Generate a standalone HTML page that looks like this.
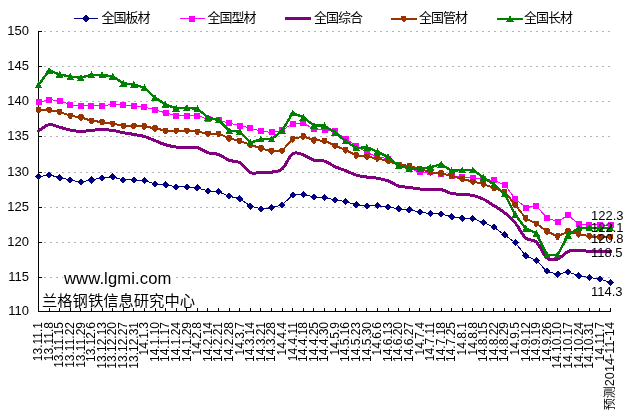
<!DOCTYPE html>
<html><head><meta charset="utf-8"><style>
html,body{margin:0;padding:0;background:#fff;}
body{width:630px;height:419px;position:relative;overflow:hidden;}
.t{position:absolute;white-space:nowrap;line-height:1;color:#000;}
.yl{font-family:"Liberation Sans",sans-serif;font-size:13px;right:601px;text-align:right;}
.lg{font-family:"Liberation Sans","Noto Sans CJK SC",sans-serif;font-size:13px;letter-spacing:-1px;}
.el{font-family:"Liberation Sans",sans-serif;font-size:13px;left:591px;}
</style></head><body>
<svg width="630" height="419" viewBox="0 0 630 419" style="position:absolute;left:0;top:0">
<line x1="44" y1="31.5" x2="610" y2="31.5" stroke="#b4b4b4" stroke-width="1" stroke-dasharray="2 4"/>
<line x1="44" y1="66.5" x2="610" y2="66.5" stroke="#b4b4b4" stroke-width="1" stroke-dasharray="2 4"/>
<line x1="44" y1="101.5" x2="610" y2="101.5" stroke="#b4b4b4" stroke-width="1" stroke-dasharray="2 4"/>
<line x1="44" y1="136.5" x2="610" y2="136.5" stroke="#b4b4b4" stroke-width="1" stroke-dasharray="2 4"/>
<line x1="44" y1="172.5" x2="610" y2="172.5" stroke="#b4b4b4" stroke-width="1" stroke-dasharray="2 4"/>
<line x1="44" y1="207.5" x2="610" y2="207.5" stroke="#b4b4b4" stroke-width="1" stroke-dasharray="2 4"/>
<line x1="44" y1="242.5" x2="610" y2="242.5" stroke="#b4b4b4" stroke-width="1" stroke-dasharray="2 4"/>
<line x1="44" y1="277.5" x2="610" y2="277.5" stroke="#b4b4b4" stroke-width="1" stroke-dasharray="2 4"/>
<g shape-rendering="crispEdges" stroke="#000" stroke-width="1">
<line x1="38.5" y1="31" x2="38.5" y2="312"/>
<line x1="38" y1="311.5" x2="611" y2="311.5"/>
<line x1="38" y1="31.5" x2="42" y2="31.5"/>
<line x1="38" y1="66.5" x2="42" y2="66.5"/>
<line x1="38" y1="101.5" x2="42" y2="101.5"/>
<line x1="38" y1="136.5" x2="42" y2="136.5"/>
<line x1="38" y1="172.5" x2="42" y2="172.5"/>
<line x1="38" y1="207.5" x2="42" y2="207.5"/>
<line x1="38" y1="242.5" x2="42" y2="242.5"/>
<line x1="38" y1="277.5" x2="42" y2="277.5"/>
<line x1="49.5" y1="308" x2="49.5" y2="311"/>
<line x1="59.5" y1="308" x2="59.5" y2="311"/>
<line x1="70.5" y1="308" x2="70.5" y2="311"/>
<line x1="80.5" y1="308" x2="80.5" y2="311"/>
<line x1="91.5" y1="308" x2="91.5" y2="311"/>
<line x1="102.5" y1="308" x2="102.5" y2="311"/>
<line x1="112.5" y1="308" x2="112.5" y2="311"/>
<line x1="123.5" y1="308" x2="123.5" y2="311"/>
<line x1="133.5" y1="308" x2="133.5" y2="311"/>
<line x1="144.5" y1="308" x2="144.5" y2="311"/>
<line x1="155.5" y1="308" x2="155.5" y2="311"/>
<line x1="165.5" y1="308" x2="165.5" y2="311"/>
<line x1="176.5" y1="308" x2="176.5" y2="311"/>
<line x1="186.5" y1="308" x2="186.5" y2="311"/>
<line x1="197.5" y1="308" x2="197.5" y2="311"/>
<line x1="207.5" y1="308" x2="207.5" y2="311"/>
<line x1="218.5" y1="308" x2="218.5" y2="311"/>
<line x1="229.5" y1="308" x2="229.5" y2="311"/>
<line x1="239.5" y1="308" x2="239.5" y2="311"/>
<line x1="250.5" y1="308" x2="250.5" y2="311"/>
<line x1="260.5" y1="308" x2="260.5" y2="311"/>
<line x1="271.5" y1="308" x2="271.5" y2="311"/>
<line x1="282.5" y1="308" x2="282.5" y2="311"/>
<line x1="292.5" y1="308" x2="292.5" y2="311"/>
<line x1="303.5" y1="308" x2="303.5" y2="311"/>
<line x1="313.5" y1="308" x2="313.5" y2="311"/>
<line x1="324.5" y1="308" x2="324.5" y2="311"/>
<line x1="335.5" y1="308" x2="335.5" y2="311"/>
<line x1="345.5" y1="308" x2="345.5" y2="311"/>
<line x1="356.5" y1="308" x2="356.5" y2="311"/>
<line x1="366.5" y1="308" x2="366.5" y2="311"/>
<line x1="377.5" y1="308" x2="377.5" y2="311"/>
<line x1="388.5" y1="308" x2="388.5" y2="311"/>
<line x1="398.5" y1="308" x2="398.5" y2="311"/>
<line x1="409.5" y1="308" x2="409.5" y2="311"/>
<line x1="419.5" y1="308" x2="419.5" y2="311"/>
<line x1="430.5" y1="308" x2="430.5" y2="311"/>
<line x1="441.5" y1="308" x2="441.5" y2="311"/>
<line x1="451.5" y1="308" x2="451.5" y2="311"/>
<line x1="462.5" y1="308" x2="462.5" y2="311"/>
<line x1="472.5" y1="308" x2="472.5" y2="311"/>
<line x1="483.5" y1="308" x2="483.5" y2="311"/>
<line x1="493.5" y1="308" x2="493.5" y2="311"/>
<line x1="504.5" y1="308" x2="504.5" y2="311"/>
<line x1="515.5" y1="308" x2="515.5" y2="311"/>
<line x1="525.5" y1="308" x2="525.5" y2="311"/>
<line x1="536.5" y1="308" x2="536.5" y2="311"/>
<line x1="546.5" y1="308" x2="546.5" y2="311"/>
<line x1="557.5" y1="308" x2="557.5" y2="311"/>
<line x1="568.5" y1="308" x2="568.5" y2="311"/>
<line x1="578.5" y1="308" x2="578.5" y2="311"/>
<line x1="589.5" y1="308" x2="589.5" y2="311"/>
<line x1="599.5" y1="308" x2="599.5" y2="311"/>
<line x1="610.5" y1="308" x2="610.5" y2="311"/>
</g>
<polyline points="38.50,176.84 49.09,174.74 59.69,177.75 70.28,179.99 80.87,182.09 91.46,179.99 102.06,177.75 112.65,176.84 123.24,179.99 133.83,179.99 144.43,180.76 155.02,183.77 165.61,184.82 176.20,186.92 186.80,186.92 197.39,187.83 207.98,190.98 218.57,191.82 229.17,196.23 239.76,198.68 250.35,206.10 260.94,208.76 271.54,207.85 282.13,204.84 292.72,195.04 303.31,194.69 313.91,196.86 324.50,197.70 335.09,199.87 345.69,201.62 356.28,204.84 366.87,205.75 377.46,205.75 388.06,206.94 398.65,208.76 409.24,209.81 419.83,211.91 430.43,213.73 441.02,213.73 451.61,216.95 462.20,218.35 472.80,218.56 483.39,222.48 493.98,227.24 504.57,234.94 515.17,242.50 525.76,255.80 536.35,260.49 546.94,271.34 557.54,274.14 568.13,271.97 578.72,275.82 589.31,277.50 599.91,279.13 610.50,282.26" fill="none" stroke="#000080" stroke-width="1.0" stroke-linejoin="round" shape-rendering="crispEdges"/><path d="M38.50,173.24L42.10,176.84L38.50,180.44L34.90,176.84ZM49.09,171.14L52.69,174.74L49.09,178.34L45.49,174.74ZM59.69,174.15L63.29,177.75L59.69,181.35L56.09,177.75ZM70.28,176.39L73.88,179.99L70.28,183.59L66.68,179.99ZM80.87,178.49L84.47,182.09L80.87,185.69L77.27,182.09ZM91.46,176.39L95.06,179.99L91.46,183.59L87.86,179.99ZM102.06,174.15L105.66,177.75L102.06,181.35L98.46,177.75ZM112.65,173.24L116.25,176.84L112.65,180.44L109.05,176.84ZM123.24,176.39L126.84,179.99L123.24,183.59L119.64,179.99ZM133.83,176.39L137.43,179.99L133.83,183.59L130.23,179.99ZM144.43,177.16L148.03,180.76L144.43,184.36L140.83,180.76ZM155.02,180.17L158.62,183.77L155.02,187.37L151.42,183.77ZM165.61,181.22L169.21,184.82L165.61,188.42L162.01,184.82ZM176.20,183.32L179.80,186.92L176.20,190.52L172.60,186.92ZM186.80,183.32L190.40,186.92L186.80,190.52L183.20,186.92ZM197.39,184.23L200.99,187.83L197.39,191.43L193.79,187.83ZM207.98,187.38L211.58,190.98L207.98,194.58L204.38,190.98ZM218.57,188.22L222.17,191.82L218.57,195.42L214.97,191.82ZM229.17,192.63L232.77,196.23L229.17,199.83L225.57,196.23ZM239.76,195.08L243.36,198.68L239.76,202.28L236.16,198.68ZM250.35,202.50L253.95,206.10L250.35,209.70L246.75,206.10ZM260.94,205.16L264.54,208.76L260.94,212.36L257.34,208.76ZM271.54,204.25L275.14,207.85L271.54,211.45L267.94,207.85ZM282.13,201.24L285.73,204.84L282.13,208.44L278.53,204.84ZM292.72,191.44L296.32,195.04L292.72,198.64L289.12,195.04ZM303.31,191.09L306.91,194.69L303.31,198.29L299.71,194.69ZM313.91,193.26L317.51,196.86L313.91,200.46L310.31,196.86ZM324.50,194.10L328.10,197.70L324.50,201.30L320.90,197.70ZM335.09,196.27L338.69,199.87L335.09,203.47L331.49,199.87ZM345.69,198.02L349.29,201.62L345.69,205.22L342.09,201.62ZM356.28,201.24L359.88,204.84L356.28,208.44L352.68,204.84ZM366.87,202.15L370.47,205.75L366.87,209.35L363.27,205.75ZM377.46,202.15L381.06,205.75L377.46,209.35L373.86,205.75ZM388.06,203.34L391.66,206.94L388.06,210.54L384.46,206.94ZM398.65,205.16L402.25,208.76L398.65,212.36L395.05,208.76ZM409.24,206.21L412.84,209.81L409.24,213.41L405.64,209.81ZM419.83,208.31L423.43,211.91L419.83,215.51L416.23,211.91ZM430.43,210.13L434.03,213.73L430.43,217.33L426.83,213.73ZM441.02,210.13L444.62,213.73L441.02,217.33L437.42,213.73ZM451.61,213.35L455.21,216.95L451.61,220.55L448.01,216.95ZM462.20,214.75L465.80,218.35L462.20,221.95L458.60,218.35ZM472.80,214.96L476.40,218.56L472.80,222.16L469.20,218.56ZM483.39,218.88L486.99,222.48L483.39,226.08L479.79,222.48ZM493.98,223.64L497.58,227.24L493.98,230.84L490.38,227.24ZM504.57,231.34L508.17,234.94L504.57,238.54L500.97,234.94ZM515.17,238.90L518.77,242.50L515.17,246.10L511.57,242.50ZM525.76,252.20L529.36,255.80L525.76,259.40L522.16,255.80ZM536.35,256.89L539.95,260.49L536.35,264.09L532.75,260.49ZM546.94,267.74L550.54,271.34L546.94,274.94L543.34,271.34ZM557.54,270.54L561.14,274.14L557.54,277.74L553.94,274.14ZM568.13,268.37L571.73,271.97L568.13,275.57L564.53,271.97ZM578.72,272.22L582.32,275.82L578.72,279.42L575.12,275.82ZM589.31,273.90L592.91,277.50L589.31,281.10L585.71,277.50ZM599.91,275.53L603.51,279.13L599.91,282.73L596.31,279.13ZM610.50,278.66L614.10,282.26L610.50,285.86L606.90,282.26Z" fill="#000080" shape-rendering="crispEdges"/>
<polyline points="38.50,102.41 49.09,99.68 59.69,100.52 70.28,104.93 80.87,105.77 91.46,105.77 102.06,105.77 112.65,104.30 123.24,105.00 133.83,105.70 144.43,107.24 155.02,109.69 165.61,112.98 176.20,115.50 186.80,115.50 197.39,115.50 207.98,119.28 218.57,120.19 229.17,123.06 239.76,125.58 250.35,128.10 260.94,131.25 271.54,132.37 282.13,130.34 292.72,123.55 303.31,123.41 313.91,128.80 324.50,130.20 335.09,131.25 345.69,139.16 356.28,145.50 366.87,152.56 377.46,156.66 388.06,158.75 398.65,164.80 409.24,167.68 419.83,172.36 430.43,172.36 441.02,173.76 451.61,176.49 462.20,177.26 472.80,178.31 483.39,179.36 493.98,180.48 504.57,184.75 515.17,198.75 525.76,207.50 536.35,206.10 546.94,217.79 557.54,221.92 568.13,215.13 578.72,224.16 589.31,224.58 599.91,225.07 610.50,225.42" fill="none" stroke="#ff00ff" stroke-width="1" stroke-linejoin="round" shape-rendering="crispEdges"/><path d="M35.50,99.41h6.0v6.0h-6.0ZM46.09,96.68h6.0v6.0h-6.0ZM56.69,97.52h6.0v6.0h-6.0ZM67.28,101.93h6.0v6.0h-6.0ZM77.87,102.77h6.0v6.0h-6.0ZM88.46,102.77h6.0v6.0h-6.0ZM99.06,102.77h6.0v6.0h-6.0ZM109.65,101.30h6.0v6.0h-6.0ZM120.24,102.00h6.0v6.0h-6.0ZM130.83,102.70h6.0v6.0h-6.0ZM141.43,104.24h6.0v6.0h-6.0ZM152.02,106.69h6.0v6.0h-6.0ZM162.61,109.98h6.0v6.0h-6.0ZM173.20,112.50h6.0v6.0h-6.0ZM183.80,112.50h6.0v6.0h-6.0ZM194.39,112.50h6.0v6.0h-6.0ZM204.98,116.28h6.0v6.0h-6.0ZM215.57,117.19h6.0v6.0h-6.0ZM226.17,120.06h6.0v6.0h-6.0ZM236.76,122.58h6.0v6.0h-6.0ZM247.35,125.10h6.0v6.0h-6.0ZM257.94,128.25h6.0v6.0h-6.0ZM268.54,129.37h6.0v6.0h-6.0ZM279.13,127.34h6.0v6.0h-6.0ZM289.72,120.55h6.0v6.0h-6.0ZM300.31,120.41h6.0v6.0h-6.0ZM310.91,125.80h6.0v6.0h-6.0ZM321.50,127.20h6.0v6.0h-6.0ZM332.09,128.25h6.0v6.0h-6.0ZM342.69,136.16h6.0v6.0h-6.0ZM353.28,142.50h6.0v6.0h-6.0ZM363.87,149.56h6.0v6.0h-6.0ZM374.46,153.66h6.0v6.0h-6.0ZM385.06,155.75h6.0v6.0h-6.0ZM395.65,161.80h6.0v6.0h-6.0ZM406.24,164.68h6.0v6.0h-6.0ZM416.83,169.36h6.0v6.0h-6.0ZM427.43,169.36h6.0v6.0h-6.0ZM438.02,170.76h6.0v6.0h-6.0ZM448.61,173.49h6.0v6.0h-6.0ZM459.20,174.26h6.0v6.0h-6.0ZM469.80,175.31h6.0v6.0h-6.0ZM480.39,176.36h6.0v6.0h-6.0ZM490.98,177.48h6.0v6.0h-6.0ZM501.57,181.75h6.0v6.0h-6.0ZM512.17,195.75h6.0v6.0h-6.0ZM522.76,204.50h6.0v6.0h-6.0ZM533.35,203.10h6.0v6.0h-6.0ZM543.94,214.79h6.0v6.0h-6.0ZM554.54,218.92h6.0v6.0h-6.0ZM565.13,212.13h6.0v6.0h-6.0ZM575.72,221.16h6.0v6.0h-6.0ZM586.31,221.58h6.0v6.0h-6.0ZM596.91,222.07h6.0v6.0h-6.0ZM607.50,222.42h6.0v6.0h-6.0Z" fill="#ff00ff" shape-rendering="crispEdges"/>
<path d="M38.50,130.90C40.27,129.86 45.56,125.29 49.09,124.67C52.62,124.05 56.15,126.30 59.69,127.19C63.22,128.08 66.75,129.29 70.28,129.99C73.81,130.69 77.34,131.33 80.87,131.39C84.40,131.45 87.93,130.66 91.46,130.34C94.99,130.03 98.52,129.49 102.06,129.50C105.59,129.51 109.12,129.87 112.65,130.41C116.18,130.95 119.71,132.06 123.24,132.72C126.77,133.39 130.30,133.77 133.83,134.40C137.36,135.03 140.90,135.45 144.43,136.50C147.96,137.55 151.49,139.30 155.02,140.68C158.55,142.06 162.08,143.72 165.61,144.78C169.14,145.84 172.67,146.58 176.20,147.01C179.73,147.44 183.27,147.28 186.80,147.37C190.33,147.47 193.86,146.70 197.39,147.59C200.92,148.48 204.45,151.55 207.98,152.70C211.51,153.85 215.04,153.24 218.57,154.50C222.10,155.76 225.64,158.88 229.17,160.26C232.70,161.64 236.23,160.74 239.76,162.78C243.29,164.82 246.82,170.88 250.35,172.50C253.88,174.12 257.41,172.56 260.94,172.50C264.48,172.44 268.01,172.74 271.54,172.14C275.07,171.54 278.60,171.96 282.13,168.90C285.66,165.84 289.19,156.12 292.72,153.78C296.25,151.44 299.78,153.78 303.31,154.86C306.85,155.94 310.38,159.22 313.91,160.26C317.44,161.30 320.97,160.04 324.50,161.12C328.03,162.20 331.56,165.14 335.09,166.74C338.62,168.34 342.15,169.31 345.69,170.70C349.22,172.09 352.75,174.03 356.28,175.09C359.81,176.15 363.34,176.53 366.87,177.05C370.40,177.58 373.93,177.61 377.46,178.24C380.99,178.87 384.52,179.52 388.06,180.83C391.59,182.14 395.12,184.98 398.65,186.08C402.18,187.18 405.71,186.92 409.24,187.41C412.77,187.90 416.30,188.67 419.83,189.02C423.36,189.37 426.90,189.43 430.43,189.51C433.96,189.59 437.49,188.85 441.02,189.51C444.55,190.18 448.08,192.69 451.61,193.50C455.14,194.31 458.67,194.01 462.20,194.34C465.73,194.67 469.27,194.67 472.80,195.46C476.33,196.25 479.86,197.40 483.39,199.10C486.92,200.80 490.45,203.42 493.98,205.68C497.51,207.94 501.04,209.81 504.57,212.68C508.10,215.55 511.64,218.68 515.17,222.90C518.70,227.12 522.23,234.83 525.76,238.02C529.29,241.20 532.82,238.69 536.35,242.01C539.88,245.34 543.41,255.12 546.94,257.97C550.48,260.82 554.01,260.19 557.54,259.09C561.07,257.99 564.60,252.85 568.13,251.39C571.66,249.93 575.19,250.34 578.72,250.34C582.25,250.34 585.78,251.22 589.31,251.39C592.85,251.56 596.38,251.39 599.91,251.39C603.44,251.39 608.73,251.39 610.50,251.39" fill="none" stroke="#800080" stroke-width="3.0" stroke-linecap="round" shape-rendering="crispEdges"/>
<polyline points="38.50,109.69 49.09,110.04 59.69,111.93 70.28,115.78 80.87,117.32 91.46,120.75 102.06,122.08 112.65,123.62 123.24,125.93 133.83,126.00 144.43,126.49 155.02,128.24 165.61,130.69 176.20,130.69 186.80,130.69 197.39,131.67 207.98,133.56 218.57,133.56 229.17,138.44 239.76,140.96 250.35,144.78 260.94,148.38 271.54,151.33 282.13,150.61 292.72,139.16 303.31,136.36 313.91,140.10 324.50,140.82 335.09,145.50 345.69,150.18 356.28,155.36 366.87,156.66 377.46,158.39 388.06,160.98 398.65,164.58 409.24,166.02 419.83,168.90 430.43,172.28 441.02,173.34 451.61,176.00 462.20,178.94 472.80,181.53 483.39,184.12 493.98,188.04 504.57,191.89 515.17,204.70 525.76,218.35 536.35,223.60 546.94,231.30 557.54,236.48 568.13,231.44 578.72,234.10 589.31,236.20 599.91,237.25 610.50,236.90" fill="none" stroke="#993300" stroke-width="2" stroke-linejoin="round" shape-rendering="crispEdges"/><path d="M36.50,106.69L40.50,106.69L41.20,107.89L41.20,110.89L39.20,113.09L37.80,113.09L35.80,110.89L35.80,107.89ZM47.09,107.04L51.09,107.04L51.79,108.24L51.79,111.24L49.79,113.44L48.39,113.44L46.39,111.24L46.39,108.24ZM57.69,108.93L61.69,108.93L62.39,110.13L62.39,113.13L60.39,115.33L58.99,115.33L56.99,113.13L56.99,110.13ZM68.28,112.78L72.28,112.78L72.98,113.98L72.98,116.98L70.98,119.18L69.58,119.18L67.58,116.98L67.58,113.98ZM78.87,114.32L82.87,114.32L83.57,115.52L83.57,118.52L81.57,120.72L80.17,120.72L78.17,118.52L78.17,115.52ZM89.46,117.75L93.46,117.75L94.16,118.95L94.16,121.95L92.16,124.15L90.76,124.15L88.76,121.95L88.76,118.95ZM100.06,119.08L104.06,119.08L104.76,120.28L104.76,123.28L102.76,125.48L101.36,125.48L99.36,123.28L99.36,120.28ZM110.65,120.62L114.65,120.62L115.35,121.82L115.35,124.82L113.35,127.02L111.95,127.02L109.95,124.82L109.95,121.82ZM121.24,122.93L125.24,122.93L125.94,124.13L125.94,127.13L123.94,129.33L122.54,129.33L120.54,127.13L120.54,124.13ZM131.83,123.00L135.83,123.00L136.53,124.20L136.53,127.20L134.53,129.40L133.13,129.40L131.13,127.20L131.13,124.20ZM142.43,123.49L146.43,123.49L147.13,124.69L147.13,127.69L145.13,129.89L143.73,129.89L141.73,127.69L141.73,124.69ZM153.02,125.24L157.02,125.24L157.72,126.44L157.72,129.44L155.72,131.64L154.32,131.64L152.32,129.44L152.32,126.44ZM163.61,127.69L167.61,127.69L168.31,128.89L168.31,131.89L166.31,134.09L164.91,134.09L162.91,131.89L162.91,128.89ZM174.20,127.69L178.20,127.69L178.90,128.89L178.90,131.89L176.90,134.09L175.50,134.09L173.50,131.89L173.50,128.89ZM184.80,127.69L188.80,127.69L189.50,128.89L189.50,131.89L187.50,134.09L186.10,134.09L184.10,131.89L184.10,128.89ZM195.39,128.67L199.39,128.67L200.09,129.87L200.09,132.87L198.09,135.07L196.69,135.07L194.69,132.87L194.69,129.87ZM205.98,130.56L209.98,130.56L210.68,131.76L210.68,134.76L208.68,136.96L207.28,136.96L205.28,134.76L205.28,131.76ZM216.57,130.56L220.57,130.56L221.27,131.76L221.27,134.76L219.27,136.96L217.87,136.96L215.87,134.76L215.87,131.76ZM227.17,135.44L231.17,135.44L231.87,136.64L231.87,139.64L229.87,141.84L228.47,141.84L226.47,139.64L226.47,136.64ZM237.76,137.96L241.76,137.96L242.46,139.16L242.46,142.16L240.46,144.36L239.06,144.36L237.06,142.16L237.06,139.16ZM248.35,141.78L252.35,141.78L253.05,142.98L253.05,145.98L251.05,148.18L249.65,148.18L247.65,145.98L247.65,142.98ZM258.94,145.38L262.94,145.38L263.64,146.58L263.64,149.58L261.64,151.78L260.24,151.78L258.24,149.58L258.24,146.58ZM269.54,148.33L273.54,148.33L274.24,149.53L274.24,152.53L272.24,154.73L270.84,154.73L268.84,152.53L268.84,149.53ZM280.13,147.61L284.13,147.61L284.83,148.81L284.83,151.81L282.83,154.01L281.43,154.01L279.43,151.81L279.43,148.81ZM290.72,136.16L294.72,136.16L295.42,137.36L295.42,140.36L293.42,142.56L292.02,142.56L290.02,140.36L290.02,137.36ZM301.31,133.36L305.31,133.36L306.01,134.56L306.01,137.56L304.01,139.76L302.61,139.76L300.61,137.56L300.61,134.56ZM311.91,137.10L315.91,137.10L316.61,138.30L316.61,141.30L314.61,143.50L313.21,143.50L311.21,141.30L311.21,138.30ZM322.50,137.82L326.50,137.82L327.20,139.02L327.20,142.02L325.20,144.22L323.80,144.22L321.80,142.02L321.80,139.02ZM333.09,142.50L337.09,142.50L337.79,143.70L337.79,146.70L335.79,148.90L334.39,148.90L332.39,146.70L332.39,143.70ZM343.69,147.18L347.69,147.18L348.39,148.38L348.39,151.38L346.39,153.58L344.99,153.58L342.99,151.38L342.99,148.38ZM354.28,152.36L358.28,152.36L358.98,153.56L358.98,156.56L356.98,158.76L355.58,158.76L353.58,156.56L353.58,153.56ZM364.87,153.66L368.87,153.66L369.57,154.86L369.57,157.86L367.57,160.06L366.17,160.06L364.17,157.86L364.17,154.86ZM375.46,155.39L379.46,155.39L380.16,156.59L380.16,159.59L378.16,161.79L376.76,161.79L374.76,159.59L374.76,156.59ZM386.06,157.98L390.06,157.98L390.76,159.18L390.76,162.18L388.76,164.38L387.36,164.38L385.36,162.18L385.36,159.18ZM396.65,161.58L400.65,161.58L401.35,162.78L401.35,165.78L399.35,167.98L397.95,167.98L395.95,165.78L395.95,162.78ZM407.24,163.02L411.24,163.02L411.94,164.22L411.94,167.22L409.94,169.42L408.54,169.42L406.54,167.22L406.54,164.22ZM417.83,165.90L421.83,165.90L422.53,167.10L422.53,170.10L420.53,172.30L419.13,172.30L417.13,170.10L417.13,167.10ZM428.43,169.28L432.43,169.28L433.13,170.48L433.13,173.48L431.13,175.68L429.73,175.68L427.73,173.48L427.73,170.48ZM439.02,170.34L443.02,170.34L443.72,171.54L443.72,174.54L441.72,176.74L440.32,176.74L438.32,174.54L438.32,171.54ZM449.61,173.00L453.61,173.00L454.31,174.20L454.31,177.20L452.31,179.40L450.91,179.40L448.91,177.20L448.91,174.20ZM460.20,175.94L464.20,175.94L464.90,177.14L464.90,180.14L462.90,182.34L461.50,182.34L459.50,180.14L459.50,177.14ZM470.80,178.53L474.80,178.53L475.50,179.73L475.50,182.73L473.50,184.93L472.10,184.93L470.10,182.73L470.10,179.73ZM481.39,181.12L485.39,181.12L486.09,182.32L486.09,185.32L484.09,187.52L482.69,187.52L480.69,185.32L480.69,182.32ZM491.98,185.04L495.98,185.04L496.68,186.24L496.68,189.24L494.68,191.44L493.28,191.44L491.28,189.24L491.28,186.24ZM502.57,188.89L506.57,188.89L507.27,190.09L507.27,193.09L505.27,195.29L503.87,195.29L501.87,193.09L501.87,190.09ZM513.17,201.70L517.17,201.70L517.87,202.90L517.87,205.90L515.87,208.10L514.47,208.10L512.47,205.90L512.47,202.90ZM523.76,215.35L527.76,215.35L528.46,216.55L528.46,219.55L526.46,221.75L525.06,221.75L523.06,219.55L523.06,216.55ZM534.35,220.60L538.35,220.60L539.05,221.80L539.05,224.80L537.05,227.00L535.65,227.00L533.65,224.80L533.65,221.80ZM544.94,228.30L548.94,228.30L549.64,229.50L549.64,232.50L547.64,234.70L546.24,234.70L544.24,232.50L544.24,229.50ZM555.54,233.48L559.54,233.48L560.24,234.68L560.24,237.68L558.24,239.88L556.84,239.88L554.84,237.68L554.84,234.68ZM566.13,228.44L570.13,228.44L570.83,229.64L570.83,232.64L568.83,234.84L567.43,234.84L565.43,232.64L565.43,229.64ZM576.72,231.10L580.72,231.10L581.42,232.30L581.42,235.30L579.42,237.50L578.02,237.50L576.02,235.30L576.02,232.30ZM587.31,233.20L591.31,233.20L592.01,234.40L592.01,237.40L590.01,239.60L588.61,239.60L586.61,237.40L586.61,234.40ZM597.91,234.25L601.91,234.25L602.61,235.45L602.61,238.45L600.61,240.65L599.21,240.65L597.21,238.45L597.21,235.45ZM608.50,233.90L612.50,233.90L613.20,235.10L613.20,238.10L611.20,240.30L609.80,240.30L607.80,238.10L607.80,235.10Z" fill="#993300" shape-rendering="crispEdges"/>
<polyline points="38.50,85.05 49.09,70.49 59.69,74.41 70.28,76.65 80.87,77.70 91.46,74.90 102.06,74.90 112.65,76.30 123.24,83.30 133.83,84.42 144.43,87.78 155.02,97.65 165.61,104.58 176.20,108.36 186.80,107.80 197.39,108.78 207.98,117.32 218.57,120.19 229.17,130.69 239.76,131.67 250.35,142.62 260.94,139.16 271.54,139.16 282.13,130.83 292.72,113.05 303.31,117.25 313.91,125.65 324.50,125.65 335.09,132.65 345.69,141.18 356.28,148.09 366.87,147.23 377.46,151.62 388.06,157.02 398.65,165.66 409.24,168.54 419.83,168.54 430.43,167.32 441.02,164.22 451.61,170.84 462.20,169.98 472.80,169.98 483.39,177.40 493.98,184.40 504.57,194.06 515.17,214.50 525.76,228.50 536.35,233.40 546.94,255.10 557.54,255.10 568.13,235.22 578.72,227.80 589.31,227.80 599.91,227.80 610.50,227.80" fill="none" stroke="#008000" stroke-width="2.4" stroke-linejoin="round" shape-rendering="crispEdges"/><path d="M38.50,81.45L42.40,88.35L34.60,88.35ZM49.09,66.89L52.99,73.79L45.19,73.79ZM59.69,70.81L63.59,77.71L55.79,77.71ZM70.28,73.05L74.18,79.95L66.38,79.95ZM80.87,74.10L84.77,81.00L76.97,81.00ZM91.46,71.30L95.36,78.20L87.56,78.20ZM102.06,71.30L105.96,78.20L98.16,78.20ZM112.65,72.70L116.55,79.60L108.75,79.60ZM123.24,79.70L127.14,86.60L119.34,86.60ZM133.83,80.82L137.73,87.72L129.93,87.72ZM144.43,84.18L148.33,91.08L140.53,91.08ZM155.02,94.05L158.92,100.95L151.12,100.95ZM165.61,100.98L169.51,107.88L161.71,107.88ZM176.20,104.76L180.10,111.66L172.30,111.66ZM186.80,104.20L190.70,111.10L182.90,111.10ZM197.39,105.18L201.29,112.08L193.49,112.08ZM207.98,113.72L211.88,120.62L204.08,120.62ZM218.57,116.59L222.47,123.49L214.67,123.49ZM229.17,127.09L233.07,133.99L225.27,133.99ZM239.76,128.07L243.66,134.97L235.86,134.97ZM250.35,139.02L254.25,145.92L246.45,145.92ZM260.94,135.56L264.84,142.46L257.04,142.46ZM271.54,135.56L275.44,142.46L267.64,142.46ZM282.13,127.23L286.03,134.13L278.23,134.13ZM292.72,109.45L296.62,116.35L288.82,116.35ZM303.31,113.65L307.21,120.55L299.41,120.55ZM313.91,122.05L317.81,128.95L310.01,128.95ZM324.50,122.05L328.40,128.95L320.60,128.95ZM335.09,129.05L338.99,135.95L331.19,135.95ZM345.69,137.58L349.59,144.48L341.79,144.48ZM356.28,144.49L360.18,151.39L352.38,151.39ZM366.87,143.63L370.77,150.53L362.97,150.53ZM377.46,148.02L381.36,154.92L373.56,154.92ZM388.06,153.42L391.96,160.32L384.16,160.32ZM398.65,162.06L402.55,168.96L394.75,168.96ZM409.24,164.94L413.14,171.84L405.34,171.84ZM419.83,164.94L423.73,171.84L415.93,171.84ZM430.43,163.72L434.33,170.62L426.53,170.62ZM441.02,160.62L444.92,167.52L437.12,167.52ZM451.61,167.24L455.51,174.14L447.71,174.14ZM462.20,166.38L466.10,173.28L458.30,173.28ZM472.80,166.38L476.70,173.28L468.90,173.28ZM483.39,173.80L487.29,180.70L479.49,180.70ZM493.98,180.80L497.88,187.70L490.08,187.70ZM504.57,190.46L508.47,197.36L500.67,197.36ZM515.17,210.90L519.07,217.80L511.27,217.80ZM525.76,224.90L529.66,231.80L521.86,231.80ZM536.35,229.80L540.25,236.70L532.45,236.70ZM546.94,251.50L550.84,258.40L543.04,258.40ZM557.54,251.50L561.44,258.40L553.64,258.40ZM568.13,231.62L572.03,238.52L564.23,238.52ZM578.72,224.20L582.62,231.10L574.82,231.10ZM589.31,224.20L593.21,231.10L585.41,231.10ZM599.91,224.20L603.81,231.10L596.01,231.10ZM610.50,224.20L614.40,231.10L606.60,231.10Z" fill="#008000" shape-rendering="crispEdges"/>
<g font-family="Liberation Sans, Noto Sans CJK SC, sans-serif" font-size="12px" fill="#000">
<text transform="translate(42.30,322) rotate(-90)" text-anchor="end">13.11.1</text>
<text transform="translate(52.89,322) rotate(-90)" text-anchor="end">13.11.8</text>
<text transform="translate(63.49,322) rotate(-90)" text-anchor="end">13.11.15</text>
<text transform="translate(74.08,322) rotate(-90)" text-anchor="end">13.11.22</text>
<text transform="translate(84.67,322) rotate(-90)" text-anchor="end">13.11.29</text>
<text transform="translate(95.26,322) rotate(-90)" text-anchor="end">13.12.6</text>
<text transform="translate(105.86,322) rotate(-90)" text-anchor="end">13.12.13</text>
<text transform="translate(116.45,322) rotate(-90)" text-anchor="end">13.12.20</text>
<text transform="translate(127.04,322) rotate(-90)" text-anchor="end">13.12.27</text>
<text transform="translate(137.63,322) rotate(-90)" text-anchor="end">13.12.31</text>
<text transform="translate(148.23,322) rotate(-90)" text-anchor="end">14.1.3</text>
<text transform="translate(158.82,322) rotate(-90)" text-anchor="end">14.1.10</text>
<text transform="translate(169.41,322) rotate(-90)" text-anchor="end">14.1.17</text>
<text transform="translate(180.00,322) rotate(-90)" text-anchor="end">14.1.24</text>
<text transform="translate(190.60,322) rotate(-90)" text-anchor="end">14.1.29</text>
<text transform="translate(201.19,322) rotate(-90)" text-anchor="end">14.2.8</text>
<text transform="translate(211.78,322) rotate(-90)" text-anchor="end">14.2.14</text>
<text transform="translate(222.37,322) rotate(-90)" text-anchor="end">14.2.21</text>
<text transform="translate(232.97,322) rotate(-90)" text-anchor="end">14.2.28</text>
<text transform="translate(243.56,322) rotate(-90)" text-anchor="end">14.3.7</text>
<text transform="translate(254.15,322) rotate(-90)" text-anchor="end">14.3.14</text>
<text transform="translate(264.74,322) rotate(-90)" text-anchor="end">14.3.21</text>
<text transform="translate(275.34,322) rotate(-90)" text-anchor="end">14.3.28</text>
<text transform="translate(285.93,322) rotate(-90)" text-anchor="end">14.4.4</text>
<text transform="translate(296.52,322) rotate(-90)" text-anchor="end">14.4.11</text>
<text transform="translate(307.11,322) rotate(-90)" text-anchor="end">14.4.18</text>
<text transform="translate(317.71,322) rotate(-90)" text-anchor="end">14.4.25</text>
<text transform="translate(328.30,322) rotate(-90)" text-anchor="end">14.4.30</text>
<text transform="translate(338.89,322) rotate(-90)" text-anchor="end">14.5.9</text>
<text transform="translate(349.49,322) rotate(-90)" text-anchor="end">14.5.16</text>
<text transform="translate(360.08,322) rotate(-90)" text-anchor="end">14.5.23</text>
<text transform="translate(370.67,322) rotate(-90)" text-anchor="end">14.5.30</text>
<text transform="translate(381.26,322) rotate(-90)" text-anchor="end">14.6.6</text>
<text transform="translate(391.86,322) rotate(-90)" text-anchor="end">14.6.13</text>
<text transform="translate(402.45,322) rotate(-90)" text-anchor="end">14.6.20</text>
<text transform="translate(413.04,322) rotate(-90)" text-anchor="end">14.6.27</text>
<text transform="translate(423.63,322) rotate(-90)" text-anchor="end">14.7.4</text>
<text transform="translate(434.23,322) rotate(-90)" text-anchor="end">14.7.11</text>
<text transform="translate(444.82,322) rotate(-90)" text-anchor="end">14.7.18</text>
<text transform="translate(455.41,322) rotate(-90)" text-anchor="end">14.7.25</text>
<text transform="translate(466.00,322) rotate(-90)" text-anchor="end">14.8.1</text>
<text transform="translate(476.60,322) rotate(-90)" text-anchor="end">14.8.8</text>
<text transform="translate(487.19,322) rotate(-90)" text-anchor="end">14.8.15</text>
<text transform="translate(497.78,322) rotate(-90)" text-anchor="end">14.8.22</text>
<text transform="translate(508.37,322) rotate(-90)" text-anchor="end">14.8.29</text>
<text transform="translate(518.97,322) rotate(-90)" text-anchor="end">14.9.5</text>
<text transform="translate(529.56,322) rotate(-90)" text-anchor="end">14.9.12</text>
<text transform="translate(540.15,322) rotate(-90)" text-anchor="end">14.9.19</text>
<text transform="translate(550.74,322) rotate(-90)" text-anchor="end">14.9.26</text>
<text transform="translate(561.34,322) rotate(-90)" text-anchor="end">14.10.10</text>
<text transform="translate(571.93,322) rotate(-90)" text-anchor="end">14.10.17</text>
<text transform="translate(582.52,322) rotate(-90)" text-anchor="end">14.10.24</text>
<text transform="translate(593.11,322) rotate(-90)" text-anchor="end">14.10.31</text>
<text transform="translate(603.71,322) rotate(-90)" text-anchor="end">14.11.7</text>
<text transform="translate(614.30,322) rotate(-90)" text-anchor="end" font-size="12.75px"><tspan font-size="12px">预测</tspan>2014-11-14</text>
</g>
</svg>
<div class="t yl" style="top:24.0px">150</div>
<div class="t yl" style="top:59.0px">145</div>
<div class="t yl" style="top:94.0px">140</div>
<div class="t yl" style="top:129.0px">135</div>
<div class="t yl" style="top:165.0px">130</div>
<div class="t yl" style="top:200.0px">125</div>
<div class="t yl" style="top:235.0px">120</div>
<div class="t yl" style="top:270.0px">115</div>
<div class="t yl" style="top:304.0px">110</div>
<svg width="630" height="30" style="position:absolute;left:0;top:0" shape-rendering="crispEdges"><line x1="74" y1="18.5" x2="98" y2="18.5" stroke="#000080" stroke-width="1"/><path d="M86.00,14.90L89.60,18.50L86.00,22.10L82.40,18.50Z" fill="#000080"/><line x1="180" y1="18.5" x2="204.5" y2="18.5" stroke="#ff00ff" stroke-width="1"/><path d="M189.25,15.50h6.0v6.0h-6.0Z" fill="#ff00ff"/><line x1="285" y1="18.5" x2="311" y2="18.5" stroke="#800080" stroke-width="3"/><line x1="390.5" y1="18.5" x2="417" y2="18.5" stroke="#993300" stroke-width="2"/><path d="M401.75,15.50L405.75,15.50L406.45,16.70L406.45,19.70L404.45,21.90L403.05,21.90L401.05,19.70L401.05,16.70Z" fill="#993300"/><line x1="497" y1="18.5" x2="523" y2="18.5" stroke="#008000" stroke-width="2"/><path d="M510.00,14.90L513.90,21.80L506.10,21.80Z" fill="#008000"/></svg>
<div class="t lg" style="left:101.5px;top:10.5px">全国板材</div>
<div class="t lg" style="left:207.5px;top:10.5px">全国型材</div>
<div class="t lg" style="left:314px;top:10.5px">全国综合</div>
<div class="t lg" style="left:419px;top:10.5px">全国管材</div>
<div class="t lg" style="left:524px;top:10.5px">全国长材</div>
<div class="t" style="left:63px;top:271px;height:16px;background:#fff;font-family:'Liberation Sans',sans-serif;font-size:16.6px;letter-spacing:0.12px;padding:0 1px 0 1px">www.lgmi.com</div>
<div class="t" style="left:42px;top:293.2px;font-family:'Liberation Sans','Noto Sans CJK SC',sans-serif;font-size:15.3px">兰格钢铁信息研究中心</div>
<div class="t el" style="top:208.5px">122.3</div>
<div class="t el" style="top:220.5px">122.1</div>
<div class="t el" style="top:231.5px">120.8</div>
<div class="t el" style="top:245.5px">118.5</div>
<div class="t el" style="top:284.5px">114.3</div>
</body></html>
